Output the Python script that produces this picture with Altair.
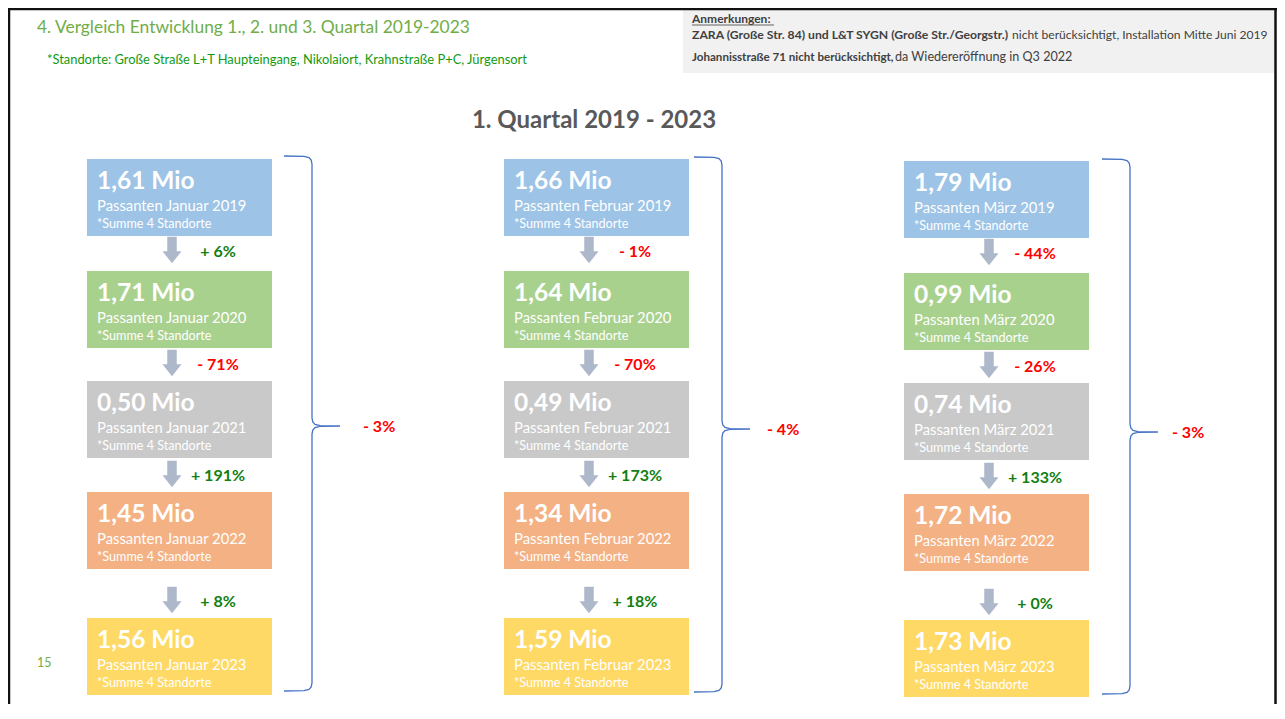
import altair as alt
import pandas as pd

# ---------------- data ----------------
months = ["Januar", "Februar", "März"]
years = ["2019", "2020", "2021", "2022", "2023"]
values = [
    [1.61, 1.71, 0.50, 1.45, 1.56],
    [1.66, 1.64, 0.49, 1.34, 1.59],
    [1.79, 0.99, 0.74, 1.72, 1.73],
]
changes = [
    [6, -71, 191, 8],
    [-1, -70, 173, 18],
    [-44, -26, 133, 0],
]
totals = [-3, -4, -3]
page_title = "4. Vergleich Entwicklung 1., 2. und 3. Quartal 2019-2023"
subtitle = "*Standorte: Große Straße L+T Haupteingang, Nikolaiort, Krahnstraße P+C, Jürgensort"
chart_title = "1. Quartal 2019 - 2023"
note_head = "Anmerkungen:"
note1_bold = "ZARA (Große Str. 84) und L&T SYGN (Große Str./Georgstr.)"
note1_reg = "nicht berücksichtigt, Installation Mitte Juni 2019"
note2_bold = "Johannisstraße 71 nicht berücksichtigt,"
note2_reg = "da Wiedereröffnung in Q3 2022"
page_no = "15"
footnote = "*Summe 4 Standorte"

# ---------------- styles / layout ----------------
box_colors = ["#9dc3e6", "#a9d18e", "#c9c9c9", "#f4b183", "#ffd966"]
GREEN_POS = "#117f11"
RED_NEG = "#ff0000"
FONT = "Lato"

col_left = [87, 504, 904]
col_shift = [0, 0, 2]
box_w = 185
box_h = 77
row_top = [159, 271, 381, 492, 618]
arrow_c = [250, 363, 474, 600]
brace_v = [312, 722, 1130]
brace_top = [156, 157, 159]
brace_mid = [426, 429, 432]
brace_bot = [691, 692, 694]
total_x = [363, 767, 1172]

CW, CH = 1269, 696
xs = alt.Scale(domain=[0, 1285], range=[-8, 1277])
ys = alt.Scale(domain=[0, 719], range=[-8, 711])


def X(f):
    return alt.X(f, type="quantitative", scale=xs, axis=None)


def Y(f):
    return alt.Y(f, type="quantitative", scale=ys, axis=None)


def fmt_val(v):
    return f"{v:.2f}".replace(".", ",") + " Mio"


def fmt_pct(p):
    return ("+ " if p >= 0 else "- ") + f"{abs(p)}%"


# boxes
box_rows = []
for c, m in enumerate(months):
    for r, yr in enumerate(years):
        top = row_top[r] + col_shift[c]
        box_rows.append(dict(
            x=col_left[c], x2=col_left[c] + box_w, y=top, y2=top + box_h,
            color=box_colors[r], tx=col_left[c] + 10,
            t1=fmt_val(values[c][r]), y1=top + 30,
            t2=f"Passanten {m} {yr}", y2t=top + 52,
            t3=footnote, y3=top + 69,
        ))
boxes = pd.DataFrame(box_rows)

# arrows + percent changes
arr_rows = []
for c in range(3):
    for k, p in enumerate(changes[c]):
        cy = arrow_c[k] + col_shift[c]
        arr_rows.append(dict(
            ax=col_left[c] + 85, ay=cy,
            lx=col_left[c] + 131, ly=cy + 2,
            txt=fmt_pct(p), col=GREEN_POS if p >= 0 else RED_NEG,
        ))
arrows = pd.DataFrame(arr_rows)

# braces
br_rows = []
for b in range(3):
    xv = brace_v[b]
    x0 = xv - 28
    xt = xv + 28
    t, m, bt = brace_top[b], brace_mid[b], brace_bot[b]
    pts = [(x0, t), (xv - 8, t + 0.4), (xv - 3, t + 1.6), (xv - 0.8, t + 4), (xv, t + 8),
           (xv, m - 8), (xv + 0.8, m - 4), (xv + 3, m - 1.6), (xv + 8, m - 0.3), (xt, m),
           (xv + 8, m + 0.3), (xv + 3, m + 1.6), (xv + 0.8, m + 4), (xv, m + 8),
           (xv, bt - 8), (xv - 0.8, bt - 4), (xv - 3, bt - 1.6), (xv - 8, bt - 0.4), (x0, bt)]
    for i, (px, py) in enumerate(pts):
        br_rows.append(dict(b=b, i=i, x=px, y=py))
braces = pd.DataFrame(br_rows)

tot = pd.DataFrame(dict(x=total_x, y=[m + 1 for m in brace_mid],
                        txt=[fmt_pct(t) for t in totals],
                        col=[GREEN_POS if t >= 0 else RED_NEG for t in totals]))

# ---------------- layers ----------------
frame_df = pd.DataFrame(dict(x=[9, 8, 1275.5], x2=[9, 1285, 1275.5],
                             y=[8, 9, 8], y2=[730, 9, 730]))
frame = alt.Chart(frame_df).mark_rule(color="#111111", strokeWidth=2.5).encode(
    x=X("x"), x2="x2", y=Y("y"), y2="y2")

note_bg = alt.Chart(pd.DataFrame(dict(x=[683], x2=[1274], y=[10], y2=[73]))).mark_rect(
    color="#f1f1f1").encode(x=X("x"), x2="x2", y=Y("y"), y2="y2")


def text_layer(txt, x, y, size, color, weight="normal", align="left"):
    return alt.Chart(pd.DataFrame(dict(x=[x], y=[y], t=[txt]))).mark_text(
        align=align, baseline="alphabetic", font=FONT, fontSize=size,
        fontWeight=weight, color=color).encode(x=X("x"), y=Y("y"), text="t:N")


NOTE_C = "#404040"
head_layers = [
    text_layer(page_title, 37, 33, 17.4, "#70ad47"),
    text_layer(subtitle, 47, 64, 12.9, "#139a13"),
    text_layer(chart_title, 594, 128, 24, "#595959", "bold", "center"),
    text_layer(page_no, 37, 667, 12.5, "#70ad47"),
    text_layer(note_head, 692, 22.5, 12, NOTE_C, "bold"),
    text_layer(note1_bold, 692, 39, 12.2, NOTE_C, "bold"),
    text_layer(note1_reg, 1012, 39, 12.1, NOTE_C),
    text_layer(note2_bold, 692, 61, 11.6, NOTE_C, "bold"),
    text_layer(note2_reg, 895, 61, 12.6, NOTE_C),
]
underline = alt.Chart(pd.DataFrame(dict(x=[692], x2=[774], y=[25]))).mark_rule(
    color=NOTE_C, strokeWidth=0.8).encode(x=X("x"), x2="x2", y=Y("y"))

rects = alt.Chart(boxes).mark_rect().encode(
    x=X("x"), x2="x2", y=Y("y"), y2="y2", color=alt.Color("color:N", scale=None))

base = alt.Chart(boxes)
t1 = base.mark_text(align="left", baseline="alphabetic", font=FONT, fontSize=24.5,
                    fontWeight="bold", color="white").encode(x=X("tx"), y=Y("y1"), text="t1:N")
t2 = base.mark_text(align="left", baseline="alphabetic", font=FONT, fontSize=14.8,
                    color="white").encode(x=X("tx"), y=Y("y2t"), text="t2:N")
t3 = base.mark_text(align="left", baseline="alphabetic", font=FONT, fontSize=12.6,
                    color="white").encode(x=X("tx"), y=Y("y3"), text="t3:N")

arrow_path = "M-0.36,-1L0.36,-1L0.36,0.1L0.72,0.1L0,1L-0.72,0.1L-0.36,0.1Z"
arr = alt.Chart(arrows).mark_point(shape=arrow_path, filled=True, size=700,
                                    opacity=1, color="#adb9ca", strokeWidth=0).encode(
    x=X("ax"), y=Y("ay"))
pct = alt.Chart(arrows).mark_text(align="center", baseline="middle", font=FONT,
                                  fontSize=16, fontWeight="bold").encode(
    x=X("lx"), y=Y("ly"), text="txt:N", color=alt.Color("col:N", scale=None))

brace = alt.Chart(braces).mark_line(color="#4472c4", strokeWidth=1.3).encode(
    x=X("x"), y=Y("y"), detail="b:N", order="i:Q")

tot_txt = alt.Chart(tot).mark_text(align="left", baseline="middle", font=FONT,
                                   fontSize=16, fontWeight="bold").encode(
    x=X("x"), y=Y("y"), text="txt:N", color=alt.Color("col:N", scale=None))

chart = alt.layer(
    note_bg, frame, *head_layers, underline, rects, t1, t2, t3, arr, pct, brace, tot_txt
).properties(
    width=CW, height=CH, autosize=alt.AutoSizeParams(type="none"), padding=0
).configure_view(stroke=None)

chart.save("out.html", embed_options={"renderer": "svg", "actions": False})
